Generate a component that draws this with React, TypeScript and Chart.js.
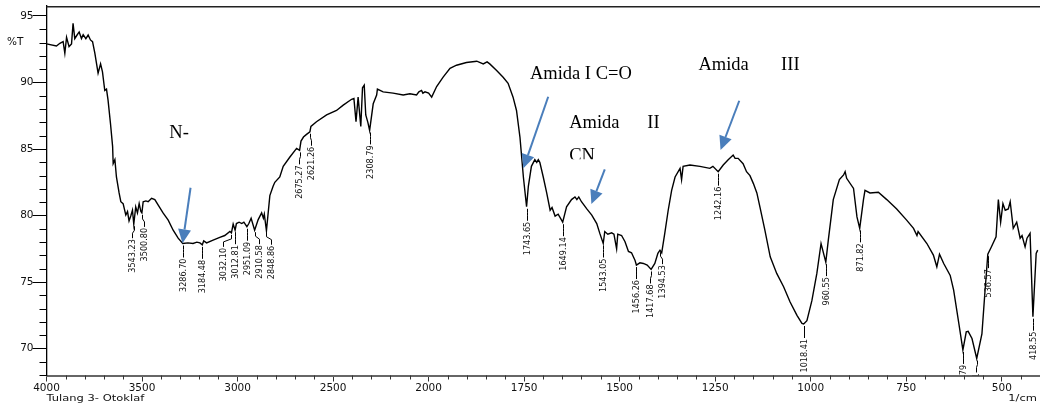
import React, { useEffect, useRef } from 'react';
import { Chart, registerables } from 'chart.js';

Chart.register(...registerables);

// Wavenumber (1/cm) of each traced point of the spectrum
const wavenumbers = [
  4000, 3948, 3930, 3913, 3904, 3895, 3882, 3869, 3861, 3852,
  3840, 3829, 3817, 3808, 3794, 3782, 3770, 3759, 3747, 3730,
  3717, 3707, 3695, 3686, 3678, 3665, 3654, 3651, 3642, 3634,
  3620, 3611, 3599, 3585, 3576, 3568, 3559, 3550, 3543.23, 3533,
  3524, 3515, 3506, 3500.8, 3494, 3480, 3468, 3450, 3433, 3416,
  3390, 3363, 3337, 3311, 3286.7, 3260, 3233, 3213, 3197, 3184.48,
  3177, 3162, 3128, 3093, 3067, 3040, 3032.1, 3023, 3012.81, 3006,
  2992, 2978, 2967, 2951.09, 2941, 2929, 2910.58, 2892, 2874, 2865,
  2860, 2848.86, 2831, 2814, 2805, 2779, 2761, 2726, 2691, 2675.27,
  2668, 2655, 2639, 2621.26, 2616, 2587, 2534, 2482, 2447, 2403,
  2391, 2380, 2369, 2355, 2346, 2337, 2329, 2318, 2308.79, 2290,
  2272, 2268, 2238, 2186, 2133, 2098, 2063, 2051, 2037, 2030,
  2019, 2000, 1992, 1979, 1962, 1944, 1927, 1901, 1874, 1865,
  1857, 1847, 1840, 1822, 1805, 1792, 1779, 1770, 1761, 1752,
  1743.65, 1739, 1731, 1722, 1717, 1713, 1709, 1700, 1691, 1682,
  1677, 1669, 1661, 1649.14, 1639, 1626, 1617, 1612, 1607, 1600,
  1586, 1573, 1560, 1552, 1543.05, 1539, 1531, 1521, 1515, 1508,
  1505, 1495, 1486, 1477, 1469, 1460, 1456.26, 1447, 1438, 1428,
  1417.68, 1408, 1400, 1394.53, 1390, 1382, 1373, 1364, 1355, 1342,
  1338, 1334, 1316, 1290, 1264, 1256, 1242.16, 1229, 1216, 1203,
  1198, 1190, 1177, 1168, 1159, 1150, 1141, 1133, 1120, 1106,
  1089, 1071, 1054, 1036, 1023, 1018.41, 1010, 997, 984, 973,
  960.55, 954, 941, 925, 914, 910, 906, 888, 879, 871.82,
  862, 858, 845, 823, 801, 775, 749, 731, 722, 719,
  696, 679, 670, 663, 652, 635, 626, 613, 601.79, 593,
  588, 578, 565.61, 552, 545, 536.57, 528, 515, 509, 503,
  497, 491, 483, 478, 470, 461, 452, 447, 439, 434,
  426, 418.55, 410, 406,
];

// Transmittance (%T) at each wavenumber above
const transmittance = [
  92.9, 92.74, 92.95, 93.07, 92.2, 93.4, 92.7, 92.9, 94.45, 93.3,
  93.57, 93.8, 93.3, 93.6, 93.3, 93.57, 93.2, 93.07, 92.2, 90.7,
  91.4, 90.8, 89.4, 89.5, 88.7, 86.9, 85.2, 83.9, 84.2, 82.9,
  81.7, 81.04, 80.9, 80.04, 80.3, 79.6, 79.97, 80.4, 79.35, 80.66,
  80.2, 80.9, 80.3, 80.2, 81.04, 81.1, 81.04, 81.3, 81.2, 80.8,
  80.2, 79.66, 78.9, 78.3, 77.9, 77.95, 77.9, 78.0, 77.95, 77.8,
  78.1, 77.95, 78.16, 78.36, 78.5, 78.8, 78.7, 79.36, 78.9, 79.4,
  79.5, 79.4, 79.5, 79.16, 79.4, 79.8, 78.9, 79.7, 80.2, 79.8,
  80.1, 78.86, 81.5, 82.2, 82.5, 82.9, 83.7, 84.4, 85.05, 84.9,
  85.6, 85.9, 86.1, 86.3, 86.7, 87.05, 87.56, 87.9, 88.3, 88.74,
  88.8, 87.05, 88.9, 86.7, 89.6, 89.8, 87.56, 87.0, 86.4, 88.4,
  89.06, 89.5, 89.3, 89.2, 89.06, 89.15, 89.06, 89.3, 89.4, 89.2,
  89.3, 89.2, 88.9, 89.7, 90.4, 91.07, 91.3, 91.5, 91.6, 91.5,
  91.4, 91.55, 91.4, 90.9, 90.4, 89.94, 88.9, 87.9, 85.9, 82.9,
  80.66, 82.2, 83.7, 84.2, 84.0, 84.2, 84.0, 82.9, 81.7, 80.4,
  80.6, 79.96, 80.1, 79.5, 80.66, 81.2, 81.4, 81.2, 81.4, 81.04,
  80.5, 80.04, 79.4, 78.66, 77.9, 78.8, 78.6, 78.7, 78.6, 77.5,
  78.6, 78.5, 78.03, 77.3, 77.2, 76.65, 76.28, 76.45, 76.4, 76.28,
  75.95, 76.4, 77.16, 77.4, 77.2, 78.66, 80.4, 81.9, 82.9, 83.55,
  82.7, 83.7, 83.8, 83.7, 83.55, 83.7, 83.3, 83.8, 84.2, 84.55,
  84.3, 84.3, 83.9, 83.3, 83.0, 82.4, 81.7, 80.66, 78.9, 76.9,
  75.65, 74.65, 73.5, 72.5, 71.9, 71.85, 72.1, 73.6, 75.65, 77.9,
  76.5, 78.16, 81.2, 82.7, 83.05, 83.3, 82.8, 82.04, 79.9, 79.04,
  81.2, 81.9, 81.7, 81.75, 81.2, 80.5, 79.66, 79.04, 78.5, 78.8,
  77.9, 77.03, 76.15, 77.1, 76.4, 75.5, 74.4, 72.0, 69.9, 71.26,
  71.3, 70.76, 69.26, 71.1, 73.9, 77.1, 77.6, 78.4, 81.2, 79.5,
  80.9, 80.4, 80.5, 81.04, 79.04, 79.5, 78.3, 78.5, 77.65, 78.3,
  78.66, 72.4, 77.16, 77.4,
];

// Peak labels printed by the instrument
const peakLabels = [
  '3543.23', '3500.80', '3286.70', '3184.48', '3032.10', '3012.81', '2951.09',
  '2910.58', '2848.86', '2675.27', '2621.26', '2308.79', '1743.65', '1649.14',
  '1543.05', '1456.26', '1417.68', '1394.53', '1242.16', '1018.41', '960.55',
  '871.82', '601.79', '565.61', '536.57', '418.55',
];

// Axis ranges
const wavenumberMax = 4000;
const wavenumberBreak = 2000; // scale is expanded 2x below this value
const wavenumberMin = 400;
const transmittanceMin = 67.98;
const transmittanceMax = 95.75;

// Annotation texts (anchored at wavenumber / %T)
const noteTexts = ['N-', 'Amida I C=O', 'Amida      II', 'CN', 'Amida       III'];
const noteWavenumbers = [3357, 1735, 1632, 1632, 1294];
const noteTransmittance = [85.8, 90.26, 86.56, 84.1, 90.94];
const noteClipBelow = [null, null, null, 84.23, null];

// Blue arrows (tail -> tip), in wavenumber / %T
const arrowTailW = [3246, 1687, 1539, 1187];
const arrowTailT = [82.09, 88.93, 83.47, 88.63];
const arrowTipW = [3288, 1752, 1574, 1236];
const arrowTipT = [77.91, 83.55, 80.86, 84.92];

const toU = (w: number) =>
  w >= wavenumberBreak ? wavenumberMax - w : (wavenumberMax - wavenumberBreak) + 2 * (wavenumberBreak - w);
const fromU = (u: number) =>
  u <= wavenumberMax - wavenumberBreak ? wavenumberMax - u : wavenumberBreak - (u - (wavenumberMax - wavenumberBreak)) / 2;

const overlayPlugin = {
  id: 'ftirOverlay',
  afterDraw(chart: any) {
    const { ctx, chartArea: ca, scales } = chart;
    const xs = scales.x;
    const ys = scales.y;
    const X = (w: number) => xs.getPixelForValue(toU(w));
    const Y = (t: number) => ys.getPixelForValue(t);
    ctx.save();

    // top frame
    ctx.strokeStyle = '#222';
    ctx.lineWidth = 1.5;
    ctx.beginPath();
    ctx.moveTo(ca.left, ca.top + 0.75);
    ctx.lineTo(ca.right, ca.top + 0.75);
    ctx.stroke();

    // minor ticks
    ctx.strokeStyle = '#000';
    ctx.lineWidth = 1;
    for (let v = Math.ceil(ys.min); v <= ys.max; v++) {
      if (v % 5 === 0) continue;
      const y = Math.round(Y(v)) + 0.5;
      ctx.beginPath();
      ctx.moveTo(ca.left - 7, y);
      ctx.lineTo(ca.left, y);
      ctx.stroke();
    }
    ctx.strokeStyle = '#333';
    for (let u = 0; u <= xs.max; u += 100) {
      if (u % 500 === 0) continue;
      const x = Math.round(xs.getPixelForValue(u)) + 0.5;
      ctx.beginPath();
      ctx.moveTo(x, ca.bottom);
      ctx.lineTo(x, ca.bottom + 4);
      ctx.stroke();
    }

    // axis captions (slightly flattened, like the instrument print)
    ctx.fillStyle = '#111';
    ctx.font = '10.5px "DejaVu Sans", sans-serif';
    ctx.textAlign = 'left';
    ctx.textBaseline = 'middle';
    ctx.fillText('%T', 7, Y(93));
    ctx.font = '11.5px "DejaVu Sans", sans-serif';
    ctx.textBaseline = 'alphabetic';
    ctx.save();
    ctx.translate(0, 400.5);
    ctx.scale(1, 0.8);
    ctx.fillText('Tulang 3- Otoklaf', ca.left, 0);
    ctx.textAlign = 'right';
    ctx.fillText('1/cm', 1037, 0);
    ctx.restore();

    // peak labels
    const items = peakLabels
      .map((s) => {
        const w = parseFloat(s);
        let best = 0;
        for (let i = 1; i < wavenumbers.length; i++) {
          if (Math.abs(wavenumbers[i] - w) < Math.abs(wavenumbers[best] - w)) best = i;
        }
        return { text: s, x: X(w), y: Y(transmittance[best]), lx: 0 };
      })
      .sort((a, b) => a.x - b.x);
    const gap = 12;
    const groups: { members: any[]; center: number }[] = [];
    for (const it of items) {
      groups.push({ members: [it], center: it.x });
      while (groups.length > 1) {
        const g = groups[groups.length - 1];
        const p = groups[groups.length - 2];
        const pRight = p.center + ((p.members.length - 1) / 2) * gap;
        const gLeft = g.center - ((g.members.length - 1) / 2) * gap;
        if (gLeft - pRight >= gap) break;
        const members = p.members.concat(g.members);
        const center = members.reduce((s, m) => s + m.x, 0) / members.length;
        groups.splice(groups.length - 2, 2, { members, center });
      }
    }
    groups.forEach((g) =>
      g.members.forEach((m, i) => {
        m.lx = g.center + (i - (g.members.length - 1) / 2) * gap;
      })
    );
    ctx.save();
    ctx.beginPath();
    ctx.rect(ca.left, ca.top, ca.right - ca.left, ca.bottom - ca.top);
    ctx.clip();
    ctx.strokeStyle = '#000';
    ctx.fillStyle = '#111';
    ctx.lineWidth = 1;
    ctx.font = '9px "Liberation Sans Narrow", "DejaVu Sans Condensed", sans-serif';
    for (const m of items) {
      const x0 = Math.round(m.x) + 0.5;
      const x1 = Math.round(m.lx) + 0.5;
      ctx.beginPath();
      ctx.moveTo(x0, m.y + 2);
      ctx.lineTo(x0, m.y + 6);
      ctx.lineTo(x1, m.y + 9);
      ctx.lineTo(x1, m.y + 14);
      ctx.stroke();
      ctx.save();
      ctx.translate(x1, m.y + 15);
      ctx.rotate(-Math.PI / 2);
      ctx.textAlign = 'right';
      ctx.textBaseline = 'middle';
      ctx.fillText(m.text, 0, 0);
      ctx.restore();
    }
    ctx.restore();

    // annotation texts
    ctx.fillStyle = '#000';
    ctx.font = '18.5px "Liberation Serif", "Times New Roman", serif';
    ctx.textAlign = 'left';
    ctx.textBaseline = 'alphabetic';
    noteTexts.forEach((t, i) => {
      ctx.save();
      const clip = noteClipBelow[i];
      if (clip !== null) {
        ctx.beginPath();
        ctx.rect(0, 0, chart.width, Y(clip));
        ctx.clip();
      }
      ctx.fillText(t, X(noteWavenumbers[i]), Y(noteTransmittance[i]));
      ctx.restore();
    });

    // arrows
    ctx.strokeStyle = '#4a7ebb';
    ctx.fillStyle = '#4a7ebb';
    ctx.lineWidth = 2;
    for (let i = 0; i < arrowTailW.length; i++) {
      const sx = X(arrowTailW[i]);
      const sy = Y(arrowTailT[i]);
      const tx = X(arrowTipW[i]);
      const ty = Y(arrowTipT[i]);
      const len = Math.hypot(tx - sx, ty - sy);
      const ux = (tx - sx) / len;
      const uy = (ty - sy) / len;
      const headLen = 14;
      const headHalf = 6.5;
      const bx = tx - ux * headLen;
      const by = ty - uy * headLen;
      ctx.beginPath();
      ctx.moveTo(sx, sy);
      ctx.lineTo(bx, by);
      ctx.stroke();
      ctx.beginPath();
      ctx.moveTo(tx, ty);
      ctx.lineTo(bx - uy * headHalf, by + ux * headHalf);
      ctx.lineTo(bx + uy * headHalf, by - ux * headHalf);
      ctx.closePath();
      ctx.fill();
    }

    ctx.restore();
  },
};

export default function App() {
  const canvasRef = useRef<HTMLCanvasElement | null>(null);

  useEffect(() => {
    if (!canvasRef.current) return;
    const data = wavenumbers.map((w, i) => ({ x: toU(w), y: transmittance[i] }));
    const chart = new Chart(canvasRef.current, {
      type: 'line',
      data: {
        datasets: [
          {
            data,
            borderColor: '#000',
            borderWidth: 1.4,
            pointRadius: 0,
            tension: 0,
            fill: false,
          },
        ],
      },
      options: {
        responsive: false,
        animation: false,
        events: [],
        layout: { padding: { top: 6, right: 0, left: 0, bottom: 0 } },
        plugins: { legend: { display: false }, tooltip: { enabled: false } },
        scales: {
          x: {
            type: 'linear',
            min: 0,
            max: toU(wavenumberMin),
            afterFit: (s: any) => {
              s.height = 29.5;
            },
            ticks: {
              stepSize: 100,
              autoSkip: false,
              maxRotation: 0,
              includeBounds: false,
              padding: 0,
              color: '#111',
              font: { family: '"DejaVu Sans", sans-serif', size: 10.5 },
              callback: (v: any) => (Number(v) % 500 === 0 ? String(Math.round(fromU(Number(v)))) : ''),
            },
            grid: {
              drawOnChartArea: false,
              tickLength: 6,
              tickColor: (c: any) => (c.tick && c.tick.value % 500 === 0 ? '#333' : 'rgba(0,0,0,0)'),
            },
            border: { color: '#666', width: 2 },
          },
          y: {
            min: transmittanceMin,
            max: transmittanceMax,
            afterFit: (s: any) => {
              s.width = 46.5;
            },
            ticks: {
              stepSize: 1,
              autoSkip: false,
              includeBounds: false,
              padding: -1,
              color: '#111',
              font: { family: '"DejaVu Sans", sans-serif', size: 10.5 },
              callback: (v: any) => (Number(v) % 5 === 0 ? String(v) : ''),
            },
            grid: {
              drawOnChartArea: false,
              tickLength: 14,
              tickColor: (c: any) => (c.tick && c.tick.value % 5 === 0 ? '#000' : 'rgba(0,0,0,0)'),
            },
            border: { color: '#000', width: 1.3 },
          },
        },
      },
      plugins: [overlayPlugin],
    });
    return () => chart.destroy();
  }, []);

  return (
    <div style={{ position: 'fixed', left: 0, top: 0, width: 1040, height: 405, background: '#fff' }}>
      <canvas ref={canvasRef} width={1040} height={405} style={{ display: 'block' }} />
    </div>
  );
}
